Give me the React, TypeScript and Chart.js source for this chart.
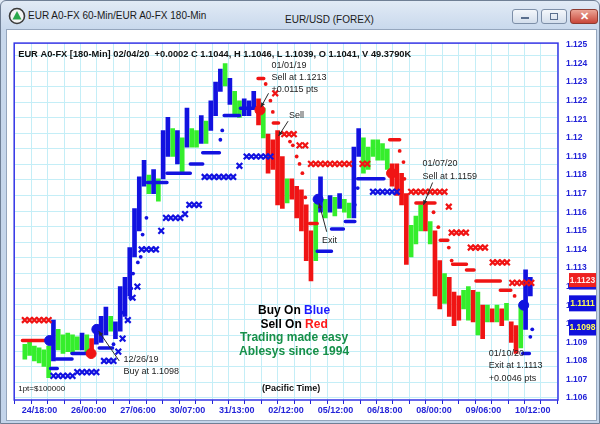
import React, { useEffect, useRef } from "react";
import { Chart, registerables } from "chart.js";

Chart.register(...registerables);

const FONT = "'Liberation Sans', Arial, Helvetica, sans-serif";

// ---------- axis labels ----------
const xTickLabels = ["24/18:00", "26/00:00", "27/06:00", "30/07:00", "31/13:00", "02/12:00", "05/12:00", "06/18:00", "08/00:00", "09/06:00", "10/12:00"];
const yTickValues = [1.106, 1.107, 1.108, 1.109, 1.11, 1.111, 1.112, 1.113, 1.114, 1.115, 1.116, 1.117, 1.118, 1.119, 1.12, 1.121, 1.122, 1.123, 1.124, 1.125];

// ---------- price bars (index = bar number) ----------
const barColors = ["g","g","g","g","g","g","b","g","g","g","g","g","b","g","r","b","b","b","g","b","b","b","b","b","b","b","g","b","g","b","b","g","b","g","b","g","g","b","g","b","b","b","g","b","g","g","b","b","b","r","g","r","r","r","r","g","r","r","r","r","r","g","b","g","b","g","b","g","g","b","b","g","g","g","g","g","g","r","r","r","r","g","g","g","r","g","r","r","g","r","r","r","g","g","r","g","r","g","r","g","r","g","r","r","g","b","b"];
const barLows = [1.1081,1.1083,1.1080,1.1079,1.1077,1.1071,1.1080,1.1086,1.1084,1.1085,
  1.1084,1.1086,1.1086,1.1084,1.1084,1.1089,1.1090,1.1094,1.1096,1.1092,
  1.1096,1.1104,1.1115,1.1136,1.1150,1.1174,1.1170,1.1170,1.1166,1.1178,
  1.1190,1.1190,1.1186,1.1181,1.1195,1.1195,1.1195,1.1197,1.1197,1.1204,
  1.1212,1.1225,1.1228,1.1218,1.1213,1.1211,1.1212,1.1212,1.1216,1.1207,
  1.1200,1.1181,1.1183,1.1164,1.1162,1.1165,1.1167,1.1157,1.1150,1.1134,
  1.1123,1.1134,1.1160,1.1157,1.1160,1.1158,1.1162,1.1160,1.1157,1.1157,
  1.1190,1.1181,1.1183,1.1190,1.1188,1.1188,1.1183,1.1174,1.1169,1.1164,
  1.1132,1.1136,1.1143,1.1150,1.1150,1.1143,1.1115,1.1108,1.1111,1.1104,
  1.1099,1.1102,1.1108,1.1102,1.1101,1.1094,1.1092,1.1101,1.1101,1.1101,
  1.1099,1.1102,1.1090,1.1084,1.1087,1.1097,1.1115];
const barHighs = [1.1089,1.1090,1.1088,1.1087,1.1086,1.1088,1.1102,1.1097,1.1094,1.1095,
  1.1094,1.1093,1.1095,1.1094,1.1092,1.1099,1.1104,1.1109,1.1104,1.1101,
  1.1120,1.1125,1.1141,1.1162,1.1179,1.1188,1.1180,1.1183,1.1178,1.1204,
  1.1211,1.1205,1.1204,1.1200,1.1216,1.1205,1.1204,1.1212,1.1209,1.1220,
  1.1230,1.1237,1.1240,1.1232,1.1225,1.1220,1.1221,1.1220,1.1225,1.1221,
  1.1216,1.1202,1.1199,1.1204,1.1190,1.1178,1.1178,1.1174,1.1172,1.1164,
  1.1150,1.1165,1.1179,1.1167,1.1169,1.1168,1.1170,1.1167,1.1165,1.1195,
  1.1205,1.1200,1.1195,1.1199,1.1199,1.1197,1.1194,1.1186,1.1186,1.1181,
  1.1170,1.1153,1.1158,1.1164,1.1165,1.1155,1.1150,1.1134,1.1127,1.1125,
  1.1117,1.1115,1.1118,1.1120,1.1118,1.1117,1.1110,1.1110,1.1108,1.1110,
  1.1108,1.1111,1.1101,1.1099,1.1110,1.1129,1.1125];

// ---------- stop markers ----------
const blueCrosses: [number, number][] = [
  [6,1.1072],[7,1.1072],[8,1.1072],[9,1.1072],[10,1.1072],
  [11,1.1074],[12,1.1074],[13,1.1074],[14,1.1074],[15,1.1074],
  [16.6,1.1080],[17.6,1.1080],[18.6,1.1080],
  [19.6,1.1085],[20.5,1.1092],[21.6,1.1102],[22.6,1.1114],[23.6,1.1120],
  [24.5,1.1140],[25.5,1.1140],[26.5,1.1140],[27.5,1.1140],
  [28.6,1.1150],
  [29.6,1.1157],[30.6,1.1157],[31.6,1.1157],[32.6,1.1157],
  [33.6,1.1159],
  [34.5,1.1164],[35.5,1.1164],[36.5,1.1164],
  [37.7,1.1179],[38.7,1.1179],[39.7,1.1179],[40.7,1.1179],[41.7,1.1179],[42.7,1.1179],[43.7,1.1179],
  [45,1.1185],
  [46.5,1.1190],[47.5,1.1190],[48.5,1.1190],[49.5,1.1190],[50.5,1.1190],[51.5,1.1190],
  [73,1.1171],[74,1.1171],[75,1.1171],[76,1.1171],[77,1.1171],[78,1.1171]
];
const redCrosses: [number, number][] = [
  [0,1.1102],[1,1.1102],[2,1.1102],[3,1.1102],[4,1.1102],[5,1.1102],
  [52.5,1.1224],
  [54.4,1.1202],[55.4,1.1202],[56.4,1.1202],
  [57.6,1.1196],[58.8,1.1196],
  [60,1.1186],[61,1.1186],[62,1.1186],[63,1.1186],[64,1.1186],[65,1.1186],[66,1.1186],[67,1.1186],[68,1.1186],
  [70.8,1.1186],[71.8,1.1186],
  [81,1.1171],[82,1.1171],[83,1.1171],[84,1.1171],[85,1.1171],[86,1.1171],[87,1.1171],[88,1.1171],
  [88.9,1.1163],
  [89.5,1.1149],[90.5,1.1149],[91.5,1.1149],[92.5,1.1149],
  [93.5,1.1141],[94.5,1.1141],[95.5,1.1141],[96.5,1.1141],
  [98.1,1.1133],[99.1,1.1133],[100.1,1.1133],[101.1,1.1133],
  [102.2,1.1122],[103.2,1.1122],[104.2,1.1122],[105.2,1.1122],[106.2,1.1122]
];
const blueDots: [number, number][] = [
  [18.6,1.1089],[20.4,1.1106],[22.1,1.1114],[22.3,1.1119],[22.7,1.1127],[23.7,1.1133],[24.3,1.1136],
  [24.7,1.1148],[25.5,1.1157],[41,1.1199],[41.4,1.1204],[69.2,1.1164],[69.8,1.1173],[106.4,1.1097],[106,1.1093]
];
const redDots: [number, number][] = [
  [50.5,1.1229],[51.5,1.1220],[52,1.1214],[55.6,1.1198],[56.2,1.1196],[57,1.1190],[57.6,1.1186],
  [58.2,1.1181],[58.8,1.1168],[78.6,1.1193],[79.4,1.1187],[79.6,1.1178],[85.7,1.1160],[86.7,1.1152],
  [88.9,1.1141],[89.5,1.1134],[102.7,1.1115]
];
const blueDashes: [number, number, number][] = [
  [5.4,6.8,1.1076],[6.6,9.9,1.1081],[9.9,14.3,1.1084],[15.6,18.4,1.1087],[25.7,29.8,1.1176],
  [29.8,34.7,1.1181],[34.7,37.3,1.1186],[37.3,40.8,1.1192],[41.8,45.0,1.1212],[45.2,48.1,1.1216],
  [61.3,64.3,1.1139],[64.3,66.8,1.1151],[67.2,69.2,1.1155],[69.8,75.3,1.1178],[104.4,105.8,1.1084]
];
const redDashes: [number, number, number][] = [
  [-0.5,4.8,1.1091],[48.9,50.1,1.1232],[52.1,53.2,1.1208],[59.7,61.3,1.1154],[76.5,78.6,1.1199],
  [82,86,1.1165],[87.1,88.7,1.1145],[89.7,92.6,1.1132],[92.6,94.2,1.1129],[94.6,99.7,1.1123],[99.7,101.9,1.1118]
];
const blueSignals: [number, number][] = [[5.2,1.1091],[15.1,1.1097],[61.5,1.1167],[104.6,1.1110]];
const redSignals: [number, number][] = [[49.3,1.1215],[13.9,1.1084],[76.9,1.1181]];

// ---------- last-price boxes ----------
const lastPrices = [1.1123, 1.1111, 1.1098];

// ---------- trade notes ----------
const noteLines = [
  ["01/01/19", "Sell at 1.1213", "+0.0115 pts"],
  ["Sell"],
  ["Exit"],
  ["01/07/20", "Sell at 1.1159"],
  ["01/10/20", "Exit at 1.1113", "+0.0046 pts"],
  ["12/26/19", "Buy at 1.1098"],
];
const noteAt: [number, number][] = [[51.7,1.1239],[55.4,1.1212],[62.3,1.1145],[83.4,1.1186],[97.3,1.1084],[20.7,1.1081]];
const noteArrows: ([number, number, number, number] | null)[] = [
  [51.1,1.1224,49.5,1.12165],
  [55.2,1.1209,53.2,1.1201],
  [63.3,1.11495,61.7,1.11647],
  [85.5,1.1176,83.6,1.1164],
  null,
  [19.8,1.1080,15.5,1.1096],
];

const headerText = "EUR A0-FX [180-Min] 02/04/20  +0.0002 C 1.1044, H 1.1046, L 1.1039, O 1.1041, V 49.3790K";

const GREEN = "#35ee2c";
const BLUE = "#1212e0";
const RED = "#f01414";
const AXIS_BLUE = "#2424d8";
const GRID = "#c4eef7";

const colorOf = (c: string) => (c === "g" ? GREEN : c === "b" ? BLUE : RED);

// x layout constants (label spacing in bar units)
const X_FIRST_LABEL = 3.057;
const X_MINOR_STEP = 3.448;

const dashData = (arr: [number, number, number][]) =>
  arr.flatMap(([a, b, p]) => [{ x: a, y: p }, { x: b, y: p }, { x: b, y: null as any }]);
const ptData = (arr: [number, number][]) => arr.map(([x, y]) => ({ x, y }));

const extrasPlugin = {
  id: "extras",
  afterDatasetsDraw(chart: any) {
    const { ctx, scales } = chart;
    const x = scales.x, y = scales.y;
    ctx.save();
    ctx.strokeStyle = "#2a2a2a";
    ctx.fillStyle = "#2a2a2a";
    ctx.lineWidth = 1;
    noteArrows.forEach((ar) => {
      if (!ar) return;
      const x0 = x.getPixelForValue(ar[0]), y0 = y.getPixelForValue(ar[1]);
      const x1 = x.getPixelForValue(ar[2]), y1 = y.getPixelForValue(ar[3]);
      ctx.beginPath(); ctx.moveTo(x0, y0); ctx.lineTo(x1, y1); ctx.stroke();
      const ang = Math.atan2(y1 - y0, x1 - x0);
      ctx.beginPath();
      ctx.moveTo(x1, y1);
      ctx.lineTo(x1 - 5 * Math.cos(ang - 0.45), y1 - 5 * Math.sin(ang - 0.45));
      ctx.lineTo(x1 - 5 * Math.cos(ang + 0.45), y1 - 5 * Math.sin(ang + 0.45));
      ctx.closePath(); ctx.fill();
    });
    ctx.font = `9px ${FONT}`;
    ctx.textBaseline = "middle";
    ctx.textAlign = "left";
    ctx.fillStyle = "#1c1c1c";
    noteLines.forEach((lines, k) => {
      const px = x.getPixelForValue(noteAt[k][0]);
      const py = y.getPixelForValue(noteAt[k][1]);
      lines.forEach((t, j) => ctx.fillText(t, px, py + j * 12.3));
    });
    ctx.restore();
  },
  afterDraw(chart: any) {
    const { ctx, chartArea: a, scales, width } = chart;
    const y = scales.y;
    ctx.save();
    // header
    ctx.font = `bold 9.3px ${FONT}`;
    ctx.fillStyle = "#111";
    ctx.textBaseline = "middle";
    ctx.textAlign = "left";
    ctx.fillText(headerText, a.left + 4, a.top + 11);
    // footer texts
    ctx.font = `8px ${FONT}`;
    ctx.fillText("1pt=$100000", a.left + 4, a.bottom - 11);
    ctx.font = `bold 9px ${FONT}`;
    ctx.textAlign = "center";
    ctx.fillText("(Pacific Time)", (a.left + a.right) / 2 + 5, a.bottom - 11);
    // legend block
    const cx = (a.left + a.right) / 2 + 8;
    const drawParts = (parts: [string, string][], yy: number) => {
      ctx.font = `bold 12px ${FONT}`;
      ctx.textAlign = "left";
      const w = parts.reduce((s, p) => s + ctx.measureText(p[0]).width, 0);
      let xx = cx - w / 2;
      parts.forEach(([t, c]) => { ctx.fillStyle = c; ctx.fillText(t, xx, yy); xx += ctx.measureText(t).width; });
    };
    drawParts([["Buy On ", "#000"], ["Blue", "#1a1aff"]], a.top + 268);
    drawParts([["Sell On ", "#000"], ["Red", "#ff1a1a"]], a.top + 281.5);
    drawParts([["Trading made easy", "#17904a"]], a.top + 295);
    drawParts([["Ablesys since 1994", "#17904a"]], a.top + 309);
    // plot border
    ctx.strokeStyle = "#3434e6";
    ctx.lineWidth = 1.5;
    ctx.strokeRect(a.left, a.top, a.right - a.left, a.bottom - a.top);
    // last price boxes
    const boxStyles = [
      { bg: "#ee2020", fg: "#ffeaea" },
      { bg: "#1010dc", fg: "#ffff55" },
      { bg: "#1010dc", fg: "#ffff55" },
    ];
    ctx.font = `bold 8.5px ${FONT}`;
    ctx.textAlign = "center";
    lastPrices.forEach((p, i) => {
      const py = y.getPixelForValue(p);
      const bx = a.right + 11;
      ctx.fillStyle = boxStyles[i].bg;
      ctx.fillRect(bx, py - 8, width - bx, 16);
      if (i === 0) { ctx.fillStyle = "#1a1ad8"; ctx.fillRect(bx, py + 6, width - bx, 2.5); }
      ctx.fillStyle = boxStyles[i].fg;
      ctx.fillText(p.toFixed(4), bx + (width - bx) / 2, py);
    });
    ctx.restore();
  },
};

export default function App() {
  const ref = useRef<HTMLCanvasElement>(null);
  useEffect(() => {
    const xTicks: number[] = [];
    for (let j = -1; j <= 31; j++) xTicks.push(X_FIRST_LABEL + j * X_MINOR_STEP);
    const chart = new Chart(ref.current as HTMLCanvasElement, {
      type: "bar",
      data: {
        datasets: [
          {
            type: "line", label: "redDots", data: ptData(redDots), showLine: false,
            pointStyle: "circle", pointRadius: 1.9, pointBackgroundColor: RED, pointBorderWidth: 0, order: 3, yAxisID: "y",
          } as any,
          {
            type: "line", label: "blueDots", data: ptData(blueDots), showLine: false,
            pointStyle: "circle", pointRadius: 1.9, pointBackgroundColor: BLUE, pointBorderWidth: 0, order: 3, yAxisID: "y",
          } as any,
          {
            type: "line", label: "blueCross", data: ptData(blueCrosses), showLine: false,
            pointStyle: "crossRot", pointRadius: 4, pointBorderColor: BLUE, pointBorderWidth: 2.2, order: 4, yAxisID: "y",
          } as any,
          {
            type: "line", label: "redCross", data: ptData(redCrosses), showLine: false,
            pointStyle: "crossRot", pointRadius: 4, pointBorderColor: RED, pointBorderWidth: 2.2, order: 4, yAxisID: "y",
          } as any,
          {
            type: "line", label: "blueDash", data: dashData(blueDashes), spanGaps: false,
            borderColor: BLUE, borderWidth: 3.5, borderCapStyle: "round", pointRadius: 0, order: 5, yAxisID: "y",
          } as any,
          {
            type: "line", label: "redDash", data: dashData(redDashes), spanGaps: false,
            borderColor: RED, borderWidth: 3.5, borderCapStyle: "round", pointRadius: 0, order: 5, yAxisID: "y",
          } as any,
          {
            type: "line", label: "blueSig", data: ptData(blueSignals), showLine: false,
            pointStyle: "circle", pointRadius: 5, pointBackgroundColor: BLUE, pointBorderColor: BLUE, order: 1, yAxisID: "y",
          } as any,
          {
            type: "line", label: "redSig", data: ptData(redSignals), showLine: false,
            pointStyle: "circle", pointRadius: 5, pointBackgroundColor: RED, pointBorderColor: RED, order: 1, yAxisID: "y",
          } as any,
          {
            type: "bar", label: "bars",
            data: barLows.map((l, i) => ({ x: i, y: [l, barHighs[i]] })),
            backgroundColor: barColors.map(colorOf),
            borderWidth: 0, barThickness: 4, order: 10, yAxisID: "y",
          } as any,
        ],
      },
      options: {
        responsive: false,
        animation: false,
        events: [],
        layout: { padding: { left: 6, top: 3, right: 0, bottom: 0 } },
        plugins: { legend: { display: false }, tooltip: { enabled: false } },
        scales: {
          x: {
            type: "linear", position: "bottom", min: -0.5, max: 110.07,
            afterBuildTicks: (s: any) => { s.ticks = xTicks.map((v) => ({ value: v })); },
            afterFit: (s: any) => { s.height = 18; },
            grid: { color: GRID, lineWidth: 1, tickLength: 4, tickColor: AXIS_BLUE },
            border: { display: false },
            ticks: {
              autoSkip: false, maxRotation: 0, minRotation: 0, padding: 1, color: AXIS_BLUE,
              font: { family: FONT, size: 9, weight: "bold" },
              callback: (_v: any, i: number) => ((i - 1) % 3 === 0 ? xTickLabels[(i - 1) / 3] ?? "" : ""),
            },
          },
          y: {
            type: "linear", position: "right", min: 1.1059, max: 1.1251,
            afterBuildTicks: (s: any) => { s.ticks = yTickValues.map((v) => ({ value: v })); },
            afterFit: (s: any) => { s.width = 38; },
            grid: { display: false, drawTicks: false },
            border: { display: false },
            ticks: {
              padding: 8, color: AXIS_BLUE, font: { family: FONT, size: 8.5, weight: "bold" },
              callback: (v: any) => String(Number(Number(v).toFixed(3))),
            },
          },
          g: {
            type: "linear", position: "left", min: 0, max: 22.94,
            afterBuildTicks: (s: any) => { const t = []; for (let k = 0; k <= 22; k++) t.push({ value: 0.144 + k }); s.ticks = t; },
            afterFit: (s: any) => { s.width = 0; },
            grid: { color: GRID, lineWidth: 1, drawTicks: false },
            border: { display: false },
            ticks: { display: false },
          },
        },
      } as any,
      plugins: [extrasPlugin],
    });
    return () => chart.destroy();
  }, []);

  const btn: React.CSSProperties = {
    position: "absolute", top: 9, height: 13, border: "1px solid #7d8fa8", borderRadius: 3,
    background: "linear-gradient(#f4f7fb, #d3deec)",
  };
  return (
    <div style={{ position: "fixed", left: 0, top: 0, width: 600, height: 424, overflow: "hidden", background: "linear-gradient(#e2ebf6, #c8d8ec 30px, #c3d4ea)", fontFamily: FONT }}>
      <div style={{ position: "absolute", left: 0, top: 0, width: 598, height: 422, border: "1px solid #6f7f95", borderRadius: "6px 6px 0 0" }} />
      <svg width="18" height="18" style={{ position: "absolute", left: 8, top: 7 }}>
        <circle cx="9" cy="9" r="7.5" fill="#f4f4f4" stroke="#3a3a3a" strokeWidth="1.6" />
        <polygon points="9,4 13.5,12.5 4.5,12.5" fill="#2aa84a" />
      </svg>
      <div style={{ position: "absolute", left: 28, top: 10, fontSize: 10, color: "#1a1a1a", whiteSpace: "nowrap" }}>EUR A0-FX 60-Min/EUR A0-FX 180-Min</div>
      <div style={{ position: "absolute", left: 285, top: 14, fontSize: 10, color: "#1a1a1a", whiteSpace: "nowrap" }}>EUR/USD (FOREX)</div>
      <div style={{ ...btn, left: 512, width: 24 }}>
        <div style={{ position: "absolute", left: 8, top: 7, width: 8, height: 2, background: "#5a6f8e" }} />
      </div>
      <div style={{ ...btn, left: 541, width: 24 }}>
        <div style={{ position: "absolute", left: 8, top: 3, width: 6, height: 5, border: "1px solid #5a6f8e" }} />
      </div>
      <div style={{ ...btn, left: 570, width: 26, border: "1px solid #8e3b31", background: "linear-gradient(#eba596, #c9473a)", color: "#fff", fontSize: 11, fontWeight: "bold", textAlign: "center", lineHeight: "13px" }}>✕</div>
      <div style={{ position: "absolute", left: 6, top: 29, width: 589, height: 390, background: "#fff", border: "1px solid #95a6bd" }} />
      <canvas ref={ref} width={588} height={388} style={{ position: "absolute", left: 8, top: 30, width: 588, height: 388 }} />
    </div>
  );
}
